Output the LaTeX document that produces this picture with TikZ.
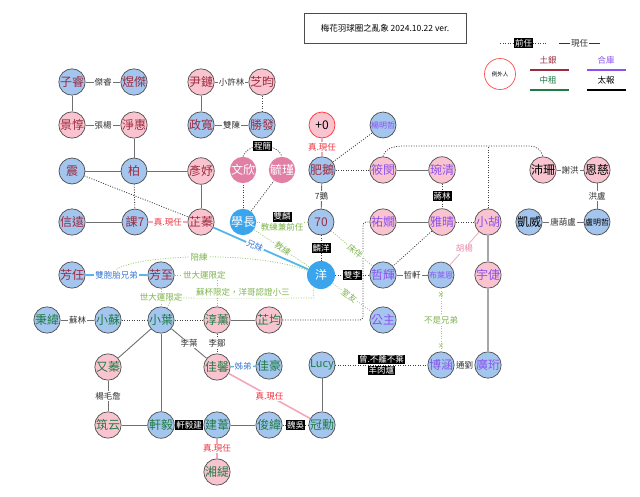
\documentclass[tikz,border=0pt]{standalone}
\usepackage{fontspec}
\setmainfont{Noto Sans CJK TC}
\usetikzlibrary{decorations.markings}

\definecolor{tuyin}{HTML}{9C2B3F}
\definecolor{zhongzu}{HTML}{1F7A45}
\definecolor{heku}{HTML}{8B50EE}
\definecolor{pinkfill}{HTML}{F9C4CF}
\definecolor{bluefill}{HTML}{A4C6EE}
\definecolor{pinkdeep}{HTML}{E17FA5}
\definecolor{bluedeep}{HTML}{3AA4EC}
\definecolor{linegray}{HTML}{707070}
\definecolor{gdot}{HTML}{9CCB6A}
\definecolor{glabc}{HTML}{7FB34D}
\definecolor{truepink}{HTML}{F4A7BA}
\definecolor{pinklab}{HTML}{E88AA8}
\definecolor{sibblue}{HTML}{55B6EC}
\definecolor{redlab}{HTML}{F0313C}
\definecolor{bluelab}{HTML}{3B78D6}

\begin{document}
\begin{tikzpicture}[x=1pt, y=-1pt,
    person/.style={circle, draw=black!70, line width=.7pt, minimum size=26pt, inner sep=0pt, font=\fontsize{12}{12}\selectfont},
    girl/.style={person, fill=pinkfill},
    boy/.style={person, fill=bluefill},
    girlhi/.style={person, draw=none, fill=pinkdeep, text=white},
    boyhi/.style={person, draw=none, fill=bluedeep, text=white},
    small3/.style={font=\fontsize{8}{8}\selectfont},
    ty/.style={text=tuyin}, zz/.style={text=zhongzu}, hk/.style={text=heku},
    lab/.style={fill=white, inner sep=1pt, text=black!80, font=\fontsize{8.5}{9}\selectfont},
    prev/.style={lab, fill=black, text=white},
    rlab/.style={lab, text=redlab},
    glab/.style={lab, text=glabc},
    blab/.style={lab, text=bluelab},
    cur/.style={draw=linegray, line width=.9pt},
    old/.style={draw=black!75, line width=.8pt, dash pattern=on 1pt off 1.5pt},
    gold/.style={draw=gdot, line width=.8pt, dash pattern=on 1pt off 1.5pt},
    love/.style={draw=truepink, line width=1.6pt},
    sib/.style={draw=sibblue, line width=1.8pt},
    heavy/.style={draw=black!35, line width=2pt},
    xends/.style={postaction={decorate, decoration={markings,
      mark=at position 6pt with {\draw[gdot, solid, line width=.6pt] (-2pt,-2pt) -- (2pt,2pt) (-2pt,2pt) -- (2pt,-2pt);},
      mark=at position -6pt with {\draw[gdot, solid, line width=.6pt] (-2pt,-2pt) -- (2pt,2pt) (-2pt,2pt) -- (2pt,-2pt);}}}}
  ]
  \useasboundingbox (0,0) rectangle (640,496);

  % title and legend
  \node[draw=black!70, line width=.7pt, minimum width=162pt, minimum height=30pt, font=\fontsize{8.5}{9}\selectfont] (title) at (385,28) {梅花羽球圈之亂象 2024.10.22 ver.};
  \coordinate (oldA) at (500,43);
  \coordinate (oldB) at (547,43);
  \coordinate (curA) at (559,43);
  \coordinate (curB) at (600,43);
  \draw[old] (oldA) -- node[prev]{前任} (oldB);
  \draw[draw=black!80, line width=.8pt] (curA) -- node[lab]{現任} (curB);
  \node[circle, draw=red!70, line width=.7pt, minimum size=31pt, inner sep=0pt, font=\fontsize{5.5}{6}\selectfont] (exc) at (500,74) {例外人};
  \node[lab, text=tuyin] (tylab) at (548,60) {土銀};
  \node[lab, text=zhongzu] (zzlab) at (548,80) {中租};
  \node[lab, text=heku] (hklab) at (606,60) {合庫};
  \node[lab, text=black] (tblab) at (606,80) {太報};
  \draw[tuyin, line width=2pt] (530,70) -- (569,70);
  \draw[zhongzu, line width=2pt] (530,90) -- (569,90);
  \draw[heku, line width=2pt] (587,70) -- (626,70);
  \draw[black, line width=2pt] (587,90) -- (626,90);

  % people
  \node[boy, ty] (zirui) at (72,82) {子睿};
  \node[boy, ty] (yujie) at (134,82) {煜傑};
  \node[girl, ty] (yinlian) at (201,82) {尹鏈};
  \node[girl, ty] (zhiyun) at (262,82) {芝昀};
  \node[girl, ty] (jingdun) at (72,125) {景惇};
  \node[girl, ty] (jinghui) at (134,125) {淨惠};
  \node[boy, ty] (zhengkuan) at (201,125) {政寬};
  \node[boy, ty] (shengfa) at (262,125) {勝發};
  \node[girl, draw=red!80] (plus0) at (322,125) {+0};
  \node[boy, hk, small3] (mingzhe) at (383,125) {楊明哲};
  \node[boy, ty] (zhen) at (72,171) {震};
  \node[boy, ty] (bo) at (134,171) {柏};
  \node[girl, ty] (yanyu) at (201,171) {彥妤};
  \node[girlhi] (wenxin) at (243,170) {文欣};
  \node[girlhi] (yujin) at (282,170) {毓瑾};
  \node[boy, ty] (feie) at (322,170) {肥鵝};
  \node[girl, hk] (xiaomin) at (383,170) {筱閔};
  \node[girl, hk] (wanqing) at (442,170) {琬清};
  \node[girl] (peishan) at (543,170) {沛珊};
  \node[girl] (enci) at (597,170) {恩慈};
  \node[boy, ty] (xinyuan) at (72,222) {信遠};
  \node[boy, ty] (ke7) at (135,222) {課7};
  \node[girl, ty] (zhizhen) at (201,222) {芷蓁};
  \node[boyhi] (xuezhang) at (243,222) {學長};
  \node[boy, ty] (qishi) at (321,222) {70};
  \node[girl, hk] (youxian) at (383,222) {祐嫺};
  \node[girl, hk] (yaqing) at (442,222) {雅晴};
  \node[girl, hk] (xiaohu) at (488,222) {小胡};
  \node[boy] (kaiwei) at (529,222) {凱威};
  \node[boy, small3] (luzhe) at (597,222) {盧明哲};
  \node[boy, ty] (fangren) at (72,275) {芳任};
  \node[boy, ty] (fangzhi) at (161,275) {芳至};
  \node[boyhi, minimum size=28pt] (yang) at (321,275) {洋};
  \node[boy, hk] (zhehui) at (383,275) {哲輝};
  \node[boy, hk, small3] (brian) at (441,275) {布萊恩};
  \node[girl, hk] (yuqie) at (488,275) {宇倢};
  \node[boy, zz] (bingwei) at (47,320) {秉緯};
  \node[boy, zz] (xiaosu) at (108,320) {小蘇};
  \node[boy, zz] (xiaoye) at (161,320) {小葉};
  \node[girl, zz] (chunxun) at (217,320) {淳薰};
  \node[girl, zz] (zhijun) at (269,320) {芷均};
  \node[boy, hk] (gongzhu) at (383,320) {公主};
  \node[girl, zz] (youzhen) at (108,367) {又蓁};
  \node[girl, zz] (jiaxin) at (217,367) {佳馨};
  \node[boy, zz] (jiahao) at (269,366) {佳豪};
  \node[boy, zz, font=\fontsize{11}{11}\selectfont] (lucy) at (322,365) {Lucy};
  \node[boy, hk] (bohan) at (441,365) {博涵};
  \node[boy, hk] (guangheng) at (488,365) {廣珩};
  \node[girl, zz] (zhuyun) at (108,425) {筑云};
  \node[boy, zz] (xuanyi) at (161,425) {軒毅};
  \node[boy, zz] (jianwei) at (217,425) {建葦};
  \node[boy, zz] (junwei) at (269,425) {俊緯};
  \node[boy, zz] (guanxun) at (322,425) {冠勳};
  \node[girl, zz] (xiangti) at (217,472) {湘緹};

  % current
  \draw[cur] (zirui) -- node[lab]{傑睿} (yujie);
  \draw[cur] (zirui) -- (jingdun);
  \draw[cur] (jingdun) -- node[lab]{張楊} (jinghui);
  \draw[cur] (jinghui) -- (bo);
  \draw[cur] (zhen) -- (bo);
  \draw[cur] (bo) -- (yanyu);
  \draw[cur] (yanyu) -- (zhizhen);
  \draw[cur] (xinyuan) -- (ke7);
  \draw[cur] (yinlian) -- node[lab]{小許林} (zhiyun);
  \draw[cur] (yinlian) -- (zhengkuan);
  \draw[cur] (zhengkuan) -- node[lab]{雙陳} (shengfa);
  \draw[cur] (feie) -- node[lab]{7鵝} (qishi);
  \draw[cur] (xiaomin) -- (wanqing);
  \draw[cur] (youxian) -- (yaqing);
  \draw[cur] (peishan) -- node[lab]{謝洪} (enci);
  \draw[cur] (enci) -- node[lab]{洪盧} (luzhe);
  \draw[cur] (kaiwei) -- node[lab]{唐葫盧} (luzhe);
  \draw[cur] (zhehui) -- node[lab]{哲軒} (brian);
  \draw[heavy] (xiaohu) -- (yuqie);
  \draw[heavy] (yuqie) -- (guangheng);
  \draw[cur] (bohan) -- node[lab]{通劉} (guangheng);
  \draw[cur] (bingwei) -- node[lab]{蘇林} (xiaosu);
  \draw[cur] (chunxun) -- (zhijun);
  \draw[cur] (xiaoye) -- (youzhen);
  \draw[cur] (xiaoye) -- (xuanyi);
  \draw[cur] (xiaoye) -- node[lab]{李葉} (jiaxin);
  \draw[cur] (youzhen) -- node[lab]{楊毛詹} (zhuyun);
  \draw[cur] (zhuyun) -- (xuanyi);
  \draw[cur] (jianwei) -- (junwei);
  \draw[cur] (lucy) -- (guanxun);

  % true ones and siblings
  \draw[love] (plus0) -- node[rlab]{真.現任} (feie);
  \draw[love] (ke7) -- node[rlab]{真.現任} (zhizhen);
  \draw[love] (jiaxin) -- node[rlab]{真.現任} (guanxun);
  \draw[love] (jianwei) -- node[rlab]{真.現任} (xiangti);
  \draw[love, line width=.8pt] (xiaohu) -- node[lab, text=pinklab]{胡楊} (brian);
  \draw[sib] (fangren) -- node[blab] (twinlab) {雙胞胎兄弟} (fangzhi);
  \draw[sib] (zhizhen) -- node[blab, sloped, pos=.44]{兄妹} (yang);
  \draw[sib, line width=1.4pt] (jiaxin) -- node[blab]{姊弟} (jiahao);

  % previous
  \draw[old] (zhiyun) -- (shengfa);
  \draw[old] (bo) -- (ke7);
  \draw[old] (zhen) -- (zhizhen);
  \draw[old] (wenxin.north) to[out=70, in=110] node[prev]{程簡} (yujin.north);
  \draw[old] (xuezhang) -- (wenxin);
  \draw[old] (xuezhang) -- (yujin);
  \draw[old] (feie) -- (mingzhe);
  \draw[old] (feie) -- (xiaomin);
  \draw[old] (qishi) -- node[prev]{麟洋} (yang);
  \draw[old] (yang) -- node[prev]{雙李} (zhehui);
  \draw[old] (wanqing) -- node[prev]{蔣林} (yaqing);
  \draw[old] (yaqing) -- (xiaohu);
  \draw[old] (yaqing) -- (zhehui);
  \draw[old] (xiaomin.north) to[out=75, in=180] (405,146) -- (530,146) to[out=0, in=105] (peishan.north);
  \coordinate (hutop) at (488,146);
  \draw[old] (xiaohu) -- (hutop);
  \draw[old, rounded corners=3pt] (zhijun) -- (363,320) |- (youxian);
  \draw[old] (xiaosu) -- (xiaoye);
  \draw[old] (xiaoye) -- (chunxun);
  \draw[old] (chunxun) -- node[lab]{李鄒} (jiaxin);
  \draw[old] (xuanyi) -- node[prev]{軒毅建} (jianwei);
  \draw[old] (junwei) -- node[prev]{魏吳} (guanxun);
  \draw[old] (lucy) -- node[prev, yshift=5.5pt]{曾.不離不棄} node[prev, yshift=-5.5pt]{羊肉爐} (bohan);

  % green ones
  \draw[gold] (xuezhang) -- node[prev, above=0pt]{雙麟} node[glab, below=0pt]{教練兼前任} (qishi);
  \draw[gold] (xuezhang) -- node[glab, sloped, pos=.52]{教練} (yang);
  \draw[gold] (qishi) -- node[glab, sloped, pos=.58]{床伴} (zhehui);
  \draw[gold] (yang) -- node[glab, sloped, pos=.42]{室友} (gongzhu);
  \draw[gold] (twinlab.north) .. controls (140,255) and (250,250) .. node[glab, pos=.5]{陪練} (yang);
  \draw[gold] (fangzhi) -- node[glab]{世大運限定} (xiaoye);
  \draw[gold] (fangzhi) -| node[glab, pos=.35]{世大運限定} (chunxun);
  \draw[gold] (yang.240) |- node[glab, pos=.75, above=0pt]{蘇杯限定，洋哥認證小三} (172,298) -- (xiaoye);
  \draw[gold, xends] (brian) -- node[glab]{不是兄弟} (bohan);
\end{tikzpicture}
\end{document}
